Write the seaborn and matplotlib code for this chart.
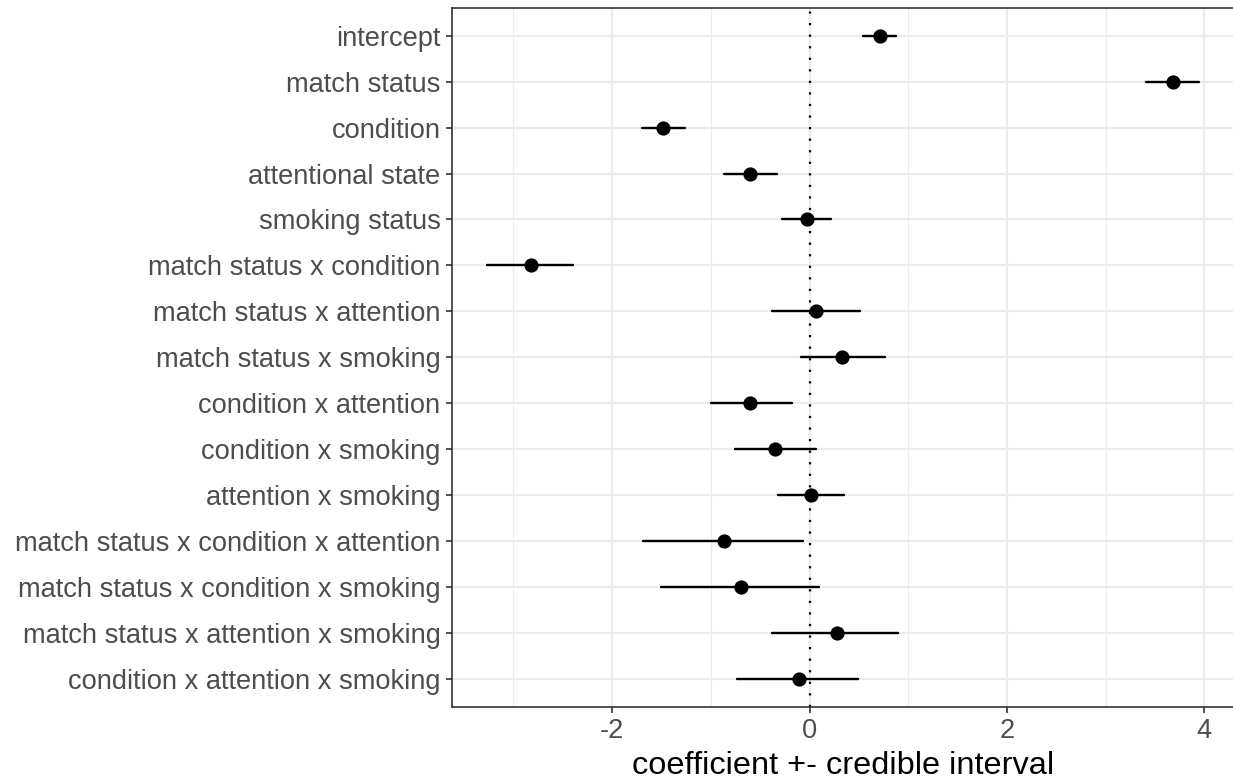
import matplotlib
matplotlib.use("Agg")
import matplotlib.pyplot as plt
import seaborn as sns
import pandas as pd
import numpy as np

terms = ["intercept", "match status", "condition", "attentional state", "smoking status",
         "match status x condition", "match status x attention", "match status x smoking",
         "condition x attention", "condition x smoking", "attention x smoking",
         "match status x condition x attention", "match status x condition x smoking",
         "match status x attention x smoking", "condition x attention x smoking"]
estimate = [0.71, 3.68, -1.48, -0.60, -0.03, -2.82, 0.07, 0.33, -0.60, -0.35, 0.01,
            -0.87, -0.69, 0.28, -0.11]
lower = [0.54, 3.41, -1.70, -0.87, -0.28, -3.27, -0.38, -0.09, -1.00, -0.76, -0.32,
         -1.69, -1.51, -0.38, -0.74]
upper = [0.88, 3.95, -1.26, -0.33, 0.22, -2.40, 0.51, 0.76, -0.18, 0.07, 0.35,
         -0.07, 0.10, 0.90, 0.49]
xticks = [-2, 0, 2, 4]

rows = []
for t, lo, e, hi in zip(terms, lower, estimate, upper):
    for v in (lo, e, hi):
        rows.append({"term": t, "value": v})
df = pd.DataFrame(rows)

sns.set_theme(style="white")
plt.rcParams['font.family'] = ['Liberation Sans', 'DejaVu Sans']

fig = plt.figure(figsize=(12.33, 7.8), dpi=100)
ax = fig.add_axes([0.3668, 0.094, 0.6332, 0.8957])

# grid
for xv in [-3, -1, 1, 3]:
    ax.axvline(xv, color="#ebebeb", lw=0.8, zorder=0)
for xv in xticks:
    ax.axvline(xv, color="#ebebeb", lw=1.6, zorder=0)
for i in range(len(terms)):
    ax.axhline(i, color="#ebebeb", lw=1.6, zorder=0)

ax.axvline(0, color="black", lw=1.6, linestyle=(0, (1, 4.2)), zorder=1)

sns.pointplot(data=df, x="value", y="term", order=terms, estimator="median",
              errorbar=("pi", 100), linestyle="none", color="black",
              markers="o", markersize=8.2, err_kws={"linewidth": 1.7},
              ax=ax, zorder=3)

ax.set_xlim(-3.62, 4.29)
ax.set_ylim(len(terms) - 1 + 0.6, -0.6)
ax.set_xticks(xticks)
ax.set_xticklabels(["-2", "0", "2", "4"])
ax.set_xlabel("coefficient +- credible interval", fontsize=23.4, color="black", labelpad=5)
ax.set_ylabel("")
ax.tick_params(axis="both", which="both", length=4.5, width=1.2, color="#333333",
               labelsize=19.6, labelcolor="#4d4d4d", pad=4, left=True, bottom=True)
ax.grid(False)
for s in ["left", "bottom", "top"]:
    ax.spines[s].set_visible(True)
    ax.spines[s].set_color("#333333")
    ax.spines[s].set_linewidth(1.2)
ax.spines["right"].set_visible(False)

fig.savefig("out.png", dpi=100)
